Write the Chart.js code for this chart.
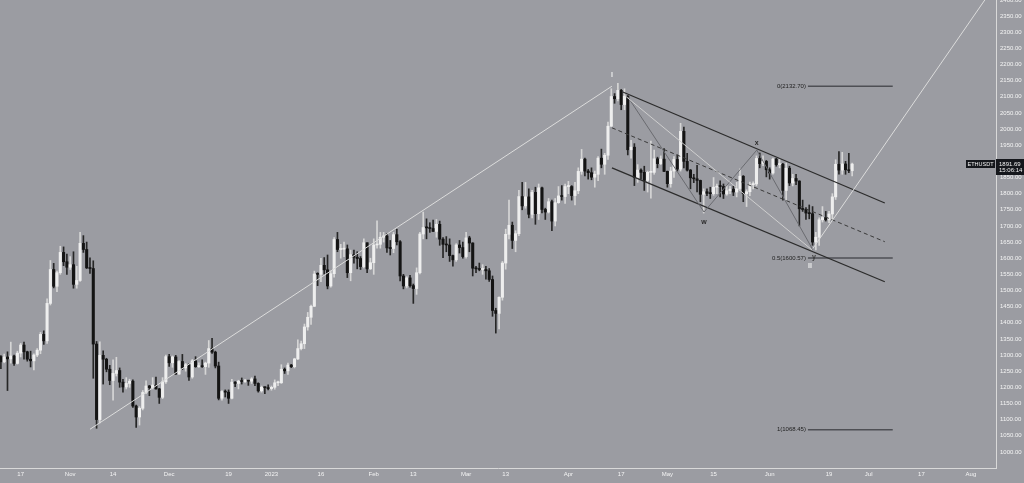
<!DOCTYPE html>
<html>
<head>
<meta charset="utf-8">
<script src="https://cdn.jsdelivr.net/npm/chart.js@4.4.0/dist/chart.umd.min.js"></script>
<style>
html, body { margin: 0; padding: 0; background: #9b9ca2; overflow: hidden; }
#wrap { width: 1024px; height: 483px; }
</style>
</head>
<body>
<div id="wrap"><canvas id="ethChart" width="1024" height="483"></canvas></div>
<script>
// ETHUSDT daily candles, day 0 = 2022-10-11
const opens = [
  1295,1279,1294,1288,1297,1274,1306,1331,1310,1287,
  1282,1300,1315,1364,1344,1460,1565,1513,1555,1618,
  1589,1572,1580,1519,1531,1646,1627,1570,1568,1334,
  1100,1299,1287,1256,1221,1243,1252,1216,1201,1212,
  1219,1142,1108,1135,1184,1204,1199,1207,1195,1169,
  1217,1295,1276,1294,1241,1280,1260,1270,1232,1282,
  1264,1266,1264,1275,1320,1309,1266,1166,1187,1185,
  1166,1216,1212,1219,1218,1220,1219,1226,1212,1189,
  1200,1199,1196,1200,1214,1214,1256,1251,1269,1264,
  1288,1320,1335,1387,1417,1451,1551,1550,1578,1564,
  1514,1552,1658,1627,1628,1629,1555,1611,1603,1599,
  1574,1648,1567,1586,1641,1643,1665,1669,1632,1630,
  1673,1651,1545,1514,1539,1515,1506,1555,1675,1695,
  1694,1692,1683,1705,1659,1643,1641,1608,1595,1641,
  1633,1605,1663,1647,1569,1567,1565,1565,1561,1534,
  1438,1429,1479,1585,1674,1702,1655,1676,1791,1762,
  1790,1736,1804,1738,1818,1751,1743,1775,1715,1772,
  1793,1791,1822,1822,1794,1809,1869,1907,1870,1865,
  1851,1860,1910,1891,1919,2009,2101,2094,2120,2076,
  2102,1936,1944,1850,1873,1866,1841,1866,1866,1908,
  1893,1907,1869,1831,1870,1906,1876,1993,1900,1873,
  1849,1846,1841,1798,1806,1801,1800,1820,1823,1822,
  1799,1809,1814,1805,1816,1854,1800,1806,1828,1830,
  1909,1893,1900,1874,1864,1907,1890,1891,1810,1879,
  1833,1847,1839,1753,1751,1740,1738,1650,1665,1719,
  1726,1719,1737,1790,1891,1873,1892,1874,1871
];
const highs = [
  1298,1303,1310,1340,1300,1312,1336,1340,1312,1312,
  1304,1320,1370,1375,1474,1593,1584,1560,1637,1635,
  1613,1605,1620,1575,1680,1670,1650,1601,1592,1342,
  1341,1313,1290,1268,1285,1293,1260,1225,1230,1225,
  1223,1145,1140,1190,1220,1206,1230,1232,1197,1230,
  1300,1302,1297,1299,1283,1302,1274,1273,1286,1295,
  1276,1285,1278,1345,1352,1312,1278,1190,1192,1192,
  1225,1218,1222,1229,1225,1222,1230,1235,1214,1204,
  1201,1208,1204,1223,1219,1270,1260,1275,1271,1290,
  1347,1343,1396,1432,1455,1560,1555,1600,1602,1610,
  1560,1664,1680,1643,1650,1641,1625,1625,1620,1605,
  1660,1648,1600,1660,1716,1680,1680,1676,1655,1680,
  1690,1655,1550,1543,1547,1520,1570,1680,1743,1722,
  1710,1718,1720,1715,1664,1667,1660,1610,1645,1655,
  1650,1680,1668,1648,1575,1585,1580,1575,1568,1545,
  1445,1480,1590,1690,1780,1712,1685,1810,1835,1835,
  1815,1810,1820,1830,1820,1755,1785,1780,1785,1822,
  1825,1830,1838,1825,1835,1880,1937,1910,1875,1880,
  1870,1915,1938,1925,2022,2125,2110,2142,2123,2125,
  2104,1965,1955,1890,1877,1885,1870,1963,1935,1913,
  1917,1940,1870,1882,1915,1920,2018,2006,1925,1875,
  1860,1888,1842,1815,1815,1820,1850,1830,1840,1830,
  1825,1823,1823,1835,1877,1856,1812,1836,1837,1917,
  1926,1917,1903,1880,1910,1910,1908,1894,1895,1885,
  1860,1860,1840,1780,1757,1765,1760,1680,1725,1760,
  1745,1745,1800,1905,1930,1928,1900,1925,1895
];
const lows = [
  1258,1276,1190,1275,1268,1272,1294,1287,1281,1263,
  1254,1295,1304,1333,1336,1455,1508,1496,1550,1577,
  1550,1565,1507,1507,1528,1618,1568,1553,1228,1073,
  1090,1210,1248,1208,1160,1235,1200,1185,1195,1200,
  1138,1076,1083,1130,1180,1174,1195,1194,1150,1165,
  1212,1265,1262,1240,1240,1255,1250,1221,1228,1262,
  1262,1262,1240,1262,1305,1260,1161,1160,1170,1150,
  1164,1202,1195,1210,1215,1206,1212,1205,1185,1185,
  1180,1192,1191,1194,1205,1212,1243,1240,1261,1260,
  1286,1316,1320,1377,1395,1450,1515,1527,1551,1505,
  1510,1541,1620,1600,1605,1540,1530,1585,1567,1565,
  1570,1555,1565,1550,1631,1631,1650,1618,1610,1617,
  1641,1530,1505,1508,1510,1460,1488,1551,1660,1660,
  1680,1683,1665,1640,1602,1620,1590,1575,1590,1616,
  1600,1600,1620,1545,1555,1561,1550,1535,1528,1420,
  1368,1381,1470,1566,1660,1630,1620,1670,1750,1755,
  1725,1725,1705,1720,1740,1720,1740,1685,1700,1770,
  1780,1770,1800,1780,1765,1800,1860,1855,1845,1843,
  1820,1840,1880,1860,1906,2008,2080,2087,2060,2060,
  1920,1910,1825,1835,1845,1810,1805,1786,1860,1880,
  1890,1868,1820,1820,1850,1870,1870,1880,1870,1815,
  1834,1805,1775,1740,1794,1785,1795,1800,1790,1785,
  1795,1800,1794,1790,1810,1775,1760,1794,1815,1824,
  1880,1887,1852,1845,1860,1885,1880,1780,1780,1825,
  1824,1828,1700,1745,1720,1722,1640,1626,1640,1712,
  1715,1710,1722,1782,1860,1860,1860,1865,1855
];
const closes = [
  1279,1294,1288,1297,1274,1306,1331,1310,1287,1282,
  1300,1315,1364,1344,1460,1565,1513,1555,1618,1589,
  1572,1580,1519,1531,1646,1627,1570,1568,1334,1100,
  1299,1287,1256,1221,1243,1252,1216,1201,1212,1219,
  1142,1108,1135,1184,1204,1199,1207,1195,1169,1217,
  1295,1276,1294,1241,1280,1260,1270,1232,1282,1264,
  1266,1264,1275,1320,1309,1266,1166,1187,1185,1166,
  1216,1212,1219,1218,1220,1219,1226,1212,1189,1200,
  1199,1196,1200,1214,1214,1256,1251,1269,1264,1288,
  1320,1335,1387,1417,1451,1551,1550,1578,1564,1514,
  1552,1658,1627,1628,1629,1555,1611,1603,1599,1574,
  1648,1567,1586,1641,1643,1665,1669,1632,1630,1673,
  1651,1545,1514,1539,1515,1506,1555,1675,1695,1694,
  1692,1683,1705,1659,1643,1641,1608,1595,1641,1633,
  1605,1663,1647,1569,1567,1565,1565,1561,1534,1438,
  1429,1479,1585,1674,1702,1655,1676,1791,1762,1790,
  1736,1804,1738,1818,1751,1743,1775,1715,1772,1793,
  1791,1822,1822,1794,1809,1869,1907,1870,1865,1851,
  1860,1910,1891,1919,2009,2101,2094,2120,2076,2102,
  1936,1944,1850,1873,1866,1841,1866,1866,1908,1893,
  1907,1869,1831,1870,1906,1876,1993,1900,1873,1849,
  1846,1841,1798,1806,1801,1800,1820,1823,1822,1799,
  1809,1814,1805,1816,1854,1800,1806,1828,1830,1909,
  1893,1900,1874,1864,1907,1890,1891,1810,1879,1833,
  1847,1839,1753,1751,1740,1738,1650,1665,1719,1726,
  1719,1737,1790,1891,1873,1892,1874,1871,1891.69
];

// time axis labels (day index -> text)
const tickDays = [6, 21, 34, 51, 69, 82, 97, 113, 125, 141, 153, 172, 188, 202, 216, 233, 251, 263, 279, 294];
const tickLabels = ["17", "Nov", "14", "Dec", "19", "2023", "16", "Feb", "13", "Mar", "13", "Apr", "17", "May", "15", "Jun", "19", "Jul", "17", "Aug"];

// drawings, [day, price]
const impulseLine = [[27, 1070], [185.2, 2133]];
const projectionLine = [[246.1, 1630], [298.2, 2400]];
const retraceLine = [[189.1, 2104], [245.8, 1626]];
const wxyLine = [[190, 2100], [213.1, 1743], [229.1, 1935], [246.1, 1626]];
const channelTop = [[188.5, 2115], [267.9, 1771]];
const channelMid = [[185.2, 2004], [267.9, 1651]];
const channelLow = [[185.2, 1880], [267.9, 1527]];
const fibNames = ["0", "0.5", "1"];
const fibLevels = [2132.70, 1600.57, 1068.45];
const fibFrom = 244.6, fibTo = 270.3;

const waveNames = ["I", "II", "w", "x", "y"];
const waveDays = [185.2, 245.2, 213.1, 229.1, 246.4];
const wavePrices = [2168, 1576, 1711, 1957, 1604];
const waveColors = ["#eeeeee", "#eeeeee", "#2a2a2a", "#2a2a2a", "#3a3a3a"];

const lastPrice = 1891.69;

const days = closes.map((c, i) => i);
const isUp = days.map(d => closes[d] >= opens[d]);

function lineSet(points, color, width, dash) {
    return {
        type: "line",
        data: points.map(p => ({ x: p[0], y: p[1] })),
        borderColor: color,
        borderWidth: width,
        borderDash: dash || [],
        pointRadius: 0,
        fill: false,
        order: 0
    };
}

const fibSets = fibLevels.map(v => lineSet([[fibFrom, v], [fibTo, v]], "#4e4f54", 1.5));

const bgPlugin = {
    id: "bg",
    beforeDraw(chart) {
        const ctx = chart.ctx;
        ctx.save();
        ctx.fillStyle = "#9b9ca2";
        ctx.fillRect(0, 0, chart.width, chart.height);
        ctx.restore();
    }
};

const labelPlugin = {
    id: "labels",
    afterDatasetsDraw(chart) {
        const ctx = chart.ctx;
        const xs = chart.scales.x, ys = chart.scales.y;
        ctx.save();
        ctx.textBaseline = "middle";
        ctx.textAlign = "center";
        ctx.font = "bold 7px 'Liberation Sans', sans-serif";
        waveNames.forEach((t, i) => {
            ctx.fillStyle = waveColors[i];
            ctx.fillText(t, xs.getPixelForValue(waveDays[i]), ys.getPixelForValue(wavePrices[i]));
        });
        ctx.textAlign = "right";
        ctx.font = "6px 'Liberation Sans', sans-serif";
        ctx.fillStyle = "#1e1e1e";
        fibLevels.forEach((v, i) => {
            ctx.fillText(fibNames[i] + "(" + v.toFixed(2) + ")", xs.getPixelForValue(fibFrom) - 2, ys.getPixelForValue(v));
        });
        ctx.restore();
    },
    afterDraw(chart) {
        const ctx = chart.ctx;
        const ys = chart.scales.y;
        const py = Math.round(ys.getPixelForValue(lastPrice));
        const ax = chart.chartArea.right;
        ctx.save();
        ctx.fillStyle = "#15171c";
        ctx.fillRect(ax - 30, py - 4, 29, 8);
        ctx.fillRect(ax, py - 5, chart.width - ax, 16);
        ctx.fillStyle = "#f2f2f2";
        ctx.textBaseline = "middle";
        ctx.textAlign = "center";
        ctx.font = "5.5px 'Liberation Sans', sans-serif";
        ctx.fillText("ETHUSDT", ax - 15.5, py);
        ctx.textAlign = "left";
        ctx.font = "6px 'Liberation Sans', sans-serif";
        ctx.fillText(lastPrice.toFixed(2), ax + 3, py);
        ctx.fillText("15:06:14", ax + 3, py + 6);
        ctx.restore();
    }
};

new Chart(document.getElementById("ethChart"), {
    type: "bar",
    data: {
        datasets: [
            {
                type: "bar",
                data: days.map(d => ({ x: d, y: [opens[d], closes[d]] })),
                backgroundColor: isUp.map(u => u ? "#eeeeee" : "#141414"),
                borderWidth: 0,
                barThickness: 2.4,
                minBarLength: 1,
                grouped: false,
                order: 1
            },
            {
                type: "bar",
                data: days.map(d => ({ x: d, y: [lows[d], highs[d]] })),
                backgroundColor: isUp.map(u => u ? "#d6d6d6" : "#262626"),
                borderWidth: 0,
                barThickness: 1,
                grouped: false,
                order: 2
            },
            lineSet(impulseLine, "#dcdcdc", 1),
            lineSet(projectionLine, "#dcdcdc", 1),
            lineSet(retraceLine, "#cfcfcf", 1),
            lineSet(wxyLine, "#6a6b70", 1),
            lineSet(channelTop, "#2c2c2c", 1.3),
            lineSet(channelMid, "#3a3a3a", 1, [4, 3]),
            lineSet(channelLow, "#2c2c2c", 1.3),
            ...fibSets
        ]
    },
    options: {
        responsive: false,
        animation: false,
        devicePixelRatio: 1,
        layout: { padding: 0 },
        plugins: { legend: { display: false }, tooltip: { enabled: false } },
        scales: {
            x: {
                type: "linear",
                min: -0.27,
                max: 301.6,
                offset: false,
                grid: { display: false, drawTicks: false, tickLength: 0 },
                border: { display: true, color: "#d9d9d9", width: 1 },
                ticks: {
                    autoSkip: false,
                    maxRotation: 0,
                    padding: 3,
                    color: "#f4f4f4",
                    font: { size: 6, family: "'Liberation Sans', sans-serif" },
                    callback: v => {
                        const i = tickDays.indexOf(v);
                        return i >= 0 ? tickLabels[i] : "";
                    }
                },
                afterBuildTicks: a => { a.ticks = tickDays.map(v => ({ value: v })); },
                afterFit: a => { a.height = 15; a.paddingLeft = 0; a.paddingRight = 0; }
            },
            y: {
                type: "linear",
                position: "right",
                min: 950,
                max: 2400,
                grid: { display: false, drawTicks: false, tickLength: 0 },
                border: { display: true, color: "#d9d9d9", width: 1 },
                ticks: {
                    stepSize: 50,
                    padding: 4,
                    color: "#f4f4f4",
                    font: { size: 6, family: "'Liberation Sans', sans-serif" },
                    callback: v => v >= 1000 ? v.toFixed(2) : ""
                },
                afterFit: a => { a.width = 28; a.paddingTop = 0; a.paddingBottom = 0; }
            }
        }
    },
    plugins: [bgPlugin, labelPlugin]
});
</script>
</body>
</html>
